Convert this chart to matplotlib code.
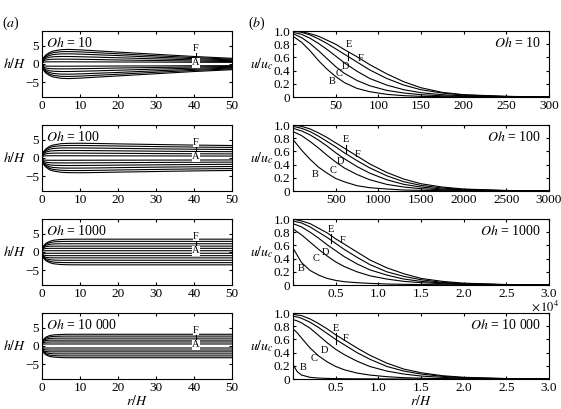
import numpy as np
import matplotlib
matplotlib.use('Agg')
import matplotlib.pyplot as plt

plt.rcParams['font.family'] = ['Liberation Serif', 'DejaVu Serif']
plt.rcParams['mathtext.fontset'] = 'stix'
plt.rcParams['xtick.direction'] = 'in'
plt.rcParams['ytick.direction'] = 'in'
plt.rcParams['xtick.major.size'] = 2.5
plt.rcParams['ytick.major.size'] = 2.5
plt.rcParams['axes.linewidth'] = 0.8

oh_names = ['10', '100', '1000', '10 000']

# ---- (a) interface shapes h/H vs r/H, curves A..F (upper half, mirrored) ----
r_shape = [0, 0.2, 0.5, 1, 2, 3, 5, 7, 10, 15, 20, 30, 40, 50]

h_oh10 = [
    [0, 0.35, 0.5, 0.57, 0.6, 0.6, 0.6, 0.6, 0.59, 0.57, 0.55, 0.52, 0.48, 0.45],
    [0, 0.6, 0.9, 1.1, 1.25, 1.3, 1.32, 1.32, 1.28, 1.2, 1.1, 0.95, 0.8, 0.67],
    [0, 0.8, 1.2, 1.55, 1.85, 1.98, 2.05, 2.05, 1.98, 1.85, 1.7, 1.4, 1.12, 0.9],
    [0, 0.95, 1.45, 1.9, 2.35, 2.58, 2.75, 2.78, 2.7, 2.5, 2.3, 1.85, 1.45, 1.12],
    [0, 1.1, 1.65, 2.2, 2.8, 3.1, 3.35, 3.4, 3.3, 3.05, 2.8, 2.25, 1.75, 1.33],
    [0, 1.2, 1.85, 2.45, 3.15, 3.55, 3.9, 3.98, 3.85, 3.55, 3.25, 2.65, 2.05, 1.55],
]
h_oh100 = [
    [0, 0.4, 0.55, 0.6, 0.62, 0.62, 0.62, 0.62, 0.61, 0.6, 0.59, 0.57, 0.55, 0.53],
    [0, 0.65, 0.95, 1.15, 1.28, 1.32, 1.34, 1.34, 1.33, 1.3, 1.27, 1.21, 1.16, 1.12],
    [0, 0.85, 1.25, 1.6, 1.88, 1.98, 2.04, 2.05, 2.04, 2.0, 1.95, 1.86, 1.78, 1.72],
    [0, 1.0, 1.5, 1.95, 2.4, 2.6, 2.73, 2.76, 2.75, 2.7, 2.63, 2.5, 2.4, 2.32],
    [0, 1.1, 1.7, 2.25, 2.85, 3.13, 3.35, 3.42, 3.42, 3.36, 3.27, 3.12, 2.98, 2.88],
    [0, 1.2, 1.85, 2.45, 3.2, 3.55, 3.9, 4.0, 4.02, 3.95, 3.85, 3.68, 3.52, 3.4],
]
h_oh1000 = [
    [0, 0.3, 0.35, 0.35, 0.35, 0.35, 0.35, 0.35, 0.35, 0.35, 0.35, 0.35, 0.35, 0.35],
    [0, 0.65, 0.85, 0.95, 1.0, 1.0, 1.0, 1.0, 1.0, 1.0, 1.0, 1.0, 1.0, 1.0],
    [0, 0.85, 1.2, 1.45, 1.58, 1.6, 1.6, 1.6, 1.6, 1.6, 1.6, 1.6, 1.6, 1.6],
    [0, 1.0, 1.45, 1.8, 2.1, 2.2, 2.25, 2.25, 2.25, 2.25, 2.25, 2.25, 2.25, 2.25],
    [0, 1.1, 1.65, 2.1, 2.55, 2.75, 2.87, 2.9, 2.9, 2.9, 2.9, 2.9, 2.9, 2.9],
    [0, 1.2, 1.8, 2.35, 2.9, 3.2, 3.42, 3.48, 3.5, 3.5, 3.5, 3.5, 3.5, 3.5],
]
h_oh10000 = [
    [0, 0.45, 0.55, 0.55, 0.55, 0.55, 0.55, 0.55, 0.55, 0.55, 0.55, 0.55, 0.55, 0.55],
    [0, 0.75, 0.95, 1.05, 1.1, 1.1, 1.1, 1.1, 1.1, 1.1, 1.1, 1.1, 1.1, 1.1],
    [0, 0.95, 1.3, 1.5, 1.6, 1.6, 1.6, 1.6, 1.6, 1.6, 1.6, 1.6, 1.6, 1.6],
    [0, 1.1, 1.55, 1.85, 2.05, 2.12, 2.15, 2.15, 2.15, 2.15, 2.15, 2.15, 2.15, 2.15],
    [0, 1.2, 1.75, 2.15, 2.5, 2.62, 2.68, 2.7, 2.7, 2.7, 2.7, 2.7, 2.7, 2.7],
    [0, 1.3, 1.9, 2.4, 2.85, 3.02, 3.15, 3.2, 3.2, 3.2, 3.2, 3.2, 3.2, 3.2],
]
shapes = [h_oh10, h_oh100, h_oh1000, h_oh10000]

# ---- (b) velocity profiles u/u_c, curves B..F ----
r_u10 = [0, 10, 20, 30, 40, 50, 60, 75, 90, 110, 130, 150, 175, 200, 250, 300]
u_oh10 = {
    'B': [0.92, 0.83, 0.7, 0.55, 0.42, 0.31, 0.22, 0.13, 0.08, 0.04, 0.02, 0.01, 0.005, 0.003, 0, 0],
    'C': [0.96, 0.9, 0.81, 0.7, 0.58, 0.46, 0.36, 0.25, 0.17, 0.1, 0.06, 0.035, 0.018, 0.01, 0.003, 0],
    'D': [0.98, 0.95, 0.89, 0.81, 0.72, 0.62, 0.52, 0.39, 0.28, 0.18, 0.11, 0.065, 0.035, 0.018, 0.005, 0],
    'E': [1.0, 0.98, 0.94, 0.88, 0.81, 0.73, 0.65, 0.53, 0.41, 0.28, 0.18, 0.11, 0.06, 0.03, 0.008, 0],
    'F': [1.0, 0.99, 0.96, 0.92, 0.86, 0.8, 0.72, 0.61, 0.49, 0.35, 0.23, 0.14, 0.07, 0.035, 0.01, 0],
}
r_u100 = [0, 100, 200, 300, 400, 500, 600, 750, 900, 1100, 1300, 1500, 1750, 2000, 2500, 3000]
u_oh100 = {
    'B': [0.78, 0.62, 0.48, 0.36, 0.27, 0.19, 0.14, 0.08, 0.05, 0.03, 0.015, 0.01, 0.005, 0.003, 0, 0],
    'C': [0.9, 0.84, 0.75, 0.65, 0.54, 0.44, 0.35, 0.25, 0.17, 0.1, 0.06, 0.035, 0.018, 0.01, 0.003, 0],
    'D': [0.95, 0.91, 0.85, 0.77, 0.68, 0.58, 0.49, 0.37, 0.27, 0.17, 0.1, 0.06, 0.03, 0.016, 0.004, 0],
    'E': [0.98, 0.95, 0.9, 0.83, 0.75, 0.67, 0.58, 0.46, 0.35, 0.23, 0.14, 0.085, 0.045, 0.022, 0.006, 0],
    'F': [1.0, 0.98, 0.94, 0.88, 0.81, 0.73, 0.65, 0.53, 0.41, 0.28, 0.18, 0.11, 0.06, 0.03, 0.008, 0],
}
r_u1000 = [0, 0.1, 0.2, 0.3, 0.4, 0.5, 0.6, 0.75, 0.9, 1.1, 1.3, 1.5, 1.75, 2.0, 2.5, 3.0]
u_oh1000 = {
    'B': [0.56, 0.34, 0.22, 0.15, 0.1, 0.07, 0.05, 0.035, 0.025, 0.015, 0.01, 0.007, 0.004, 0.002, 0, 0],
    'C': [0.85, 0.76, 0.65, 0.54, 0.44, 0.35, 0.28, 0.2, 0.14, 0.09, 0.055, 0.035, 0.02, 0.01, 0.003, 0],
    'D': [0.93, 0.88, 0.8, 0.71, 0.61, 0.52, 0.43, 0.32, 0.23, 0.15, 0.09, 0.055, 0.03, 0.016, 0.004, 0],
    'E': [0.97, 0.94, 0.88, 0.8, 0.72, 0.63, 0.54, 0.42, 0.31, 0.2, 0.13, 0.08, 0.04, 0.02, 0.005, 0],
    'F': [1.0, 0.97, 0.93, 0.86, 0.79, 0.7, 0.62, 0.5, 0.38, 0.26, 0.17, 0.1, 0.055, 0.028, 0.007, 0],
}
r_u10000 = [0, 0.05, 0.1, 0.2, 0.3, 0.4, 0.5, 0.6, 0.75, 0.9, 1.1, 1.3, 1.5, 1.75, 2.0, 2.5, 3.0]
u_oh10000 = {
    'B': [0.22, 0.11, 0.06, 0.025, 0.014, 0.009, 0.006, 0.004, 0.003, 0.002, 0.001, 0, 0, 0, 0, 0, 0],
    'C': [0.76, 0.7, 0.62, 0.47, 0.35, 0.26, 0.19, 0.14, 0.09, 0.06, 0.035, 0.02, 0.012, 0.006, 0.003, 0, 0],
    'D': [0.9, 0.88, 0.85, 0.77, 0.66, 0.55, 0.45, 0.37, 0.27, 0.19, 0.12, 0.075, 0.045, 0.025, 0.013, 0.003, 0],
    'E': [0.95, 0.94, 0.92, 0.86, 0.78, 0.69, 0.6, 0.52, 0.4, 0.3, 0.19, 0.12, 0.075, 0.04, 0.02, 0.005, 0],
    'F': [0.98, 0.97, 0.96, 0.91, 0.84, 0.76, 0.67, 0.59, 0.47, 0.36, 0.24, 0.15, 0.095, 0.05, 0.026, 0.007, 0],
}
profiles = [(r_u10, u_oh10), (r_u100, u_oh100), (r_u1000, u_oh1000), (r_u10000, u_oh10000)]

xmax_b = [300, 3000, 3.0, 3.0]
xstep_b = [50, 500, 0.5, 0.5]
# label positions (r, u) for B..F, E pointer line
lab_pos = [
    {'B': (46, 0.24), 'C': (54, 0.35), 'D': (61, 0.46), 'E': (65, 0.79), 'F': (79, 0.58)},
    {'B': (260, 0.25), 'C': (470, 0.31), 'D': (560, 0.45), 'E': (620, 0.78), 'F': (760, 0.56)},
    {'B': (0.1, 0.25), 'C': (0.27, 0.4), 'D': (0.38, 0.49), 'E': (0.45, 0.84), 'F': (0.58, 0.67)},
    {'B': (0.12, 0.18), 'C': (0.25, 0.31), 'D': (0.37, 0.43), 'E': (0.5, 0.76), 'F': (0.62, 0.61)},
]
e_line = [(65, 0.68, 0.56), (620, 0.69, 0.58), (0.45, 0.78, 0.63), (0.5, 0.69, 0.53)]

W, H = 561, 409
fig = plt.figure(figsize=(W / 100, H / 100), dpi=100)
tops = [31, 125, 219, 313]
ah = 66

for i in range(4):
    # left panel
    ax = fig.add_axes([42 / W, 1 - (tops[i] + ah) / H, 190 / W, ah / H])
    for hk in shapes[i]:
        ax.plot(r_shape, hk, color='black', lw=0.8)
        ax.plot(r_shape, [-v for v in hk], color='black', lw=0.8)
    ax.set_xlim(0, 50)
    ax.set_ylim(-9, 9)
    ax.set_xticks([0, 10, 20, 30, 40, 50])
    ax.set_yticks([-5, 0, 5])
    ax.set_yticklabels(['\u22125', '0', '5'])
    ax.tick_params(labelsize=9.5, top=True, right=True, pad=2)
    ax.text(0.02, 0.93, '$Oh$ = ' + oh_names[i], transform=ax.transAxes,
            fontsize=10, va='top', ha='left')
    bb = dict(facecolor='white', edgecolor='none', pad=0.3)
    ax.text(40.5, 4.3, 'F', fontsize=7.5, ha='center', va='center', bbox=bb)
    ax.plot([40.5, 40.5], [1.4, 3.2], color='black', lw=0.8)
    ax.text(40.5, 0.3, 'A', fontsize=7.5, ha='center', va='center', bbox=bb)
    fig.text(3 / W, 1 - (tops[i] + 33) / H, '$h/H$', fontsize=10, va='center', ha='left')

    # right panel
    bx = fig.add_axes([293 / W, 1 - (tops[i] + ah) / H, 256 / W, ah / H])
    rr, uu = profiles[i]
    for k in ['B', 'C', 'D', 'E', 'F']:
        bx.plot(rr, uu[k], color='black', lw=0.8)
    bx.set_xlim(0, xmax_b[i])
    bx.set_ylim(0, 1.0)
    xt = np.arange(0, xmax_b[i] + xstep_b[i] / 2, xstep_b[i])
    bx.set_xticks(xt)
    if i < 2:
        bx.set_xticklabels([''] + ['%d' % v for v in xt[1:]])
    else:
        bx.set_xticklabels([''] + ['%.1f' % v for v in xt[1:]])
    bx.set_yticks([0, 0.2, 0.4, 0.6, 0.8, 1.0])
    bx.set_yticklabels(['0', '0.2', '0.4', '0.6', '0.8', '1.0'])
    bx.tick_params(labelsize=9.5, top=True, right=True, pad=2)
    bx.text(0.97, 0.82, '$Oh$ = ' + oh_names[i], transform=bx.transAxes,
            fontsize=10, va='center', ha='right')
    for k, (px, py) in lab_pos[i].items():
        bx.text(px, py, k, fontsize=7.5, ha='center', va='center')
    ex, e0, e1 = e_line[i]
    bx.plot([ex, ex], [e0, e1], color='black', lw=0.8)
    fig.text(250 / W, 1 - (tops[i] + 33) / H, '$u/u_c$', fontsize=10, va='center', ha='left')

fig.text(2 / W, 1 - 23 / H, '($a$)', fontsize=10, va='center', ha='left')
fig.text(248 / W, 1 - 23 / H, '($b$)', fontsize=10, va='center', ha='left')
fig.text(559 / W, 1 - 306.5 / H, r'$\times\,10^4$', fontsize=9, va='center', ha='right')
fig.text(137 / W, 1 - 401 / H, '$r/H$', fontsize=10, va='center', ha='center')
fig.text(421 / W, 1 - 401 / H, '$r/H$', fontsize=10, va='center', ha='center')

fig.savefig('out.png', dpi=100)
